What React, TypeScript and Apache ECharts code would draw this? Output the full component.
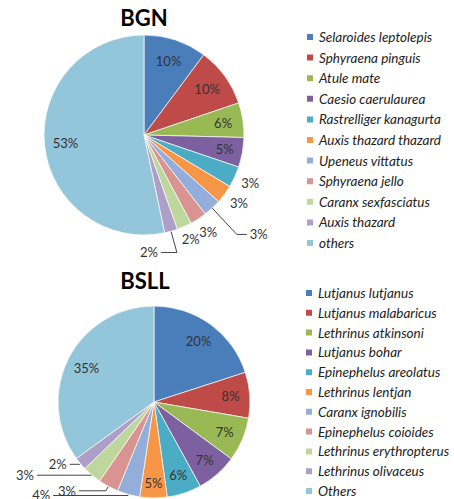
import React, { useEffect, useRef } from "react";
import * as echarts from "echarts";

// ---------- data ----------
const BGN_SPECIES = [
  "Selaroides leptolepis",
  "Sphyraena pinguis",
  "Atule mate",
  "Caesio caerulaurea",
  "Rastrelliger kanagurta",
  "Auxis thazard thazard",
  "Upeneus vittatus",
  "Sphyraena jello",
  "Caranx sexfasciatus",
  "Auxis thazard",
  "others",
];
const BGN_VALUES = [10.2, 9.6, 5.6, 4.8, 3.4, 3.0, 2.9, 2.7, 2.4, 2.1, 53.3];

const BSLL_SPECIES = [
  "Lutjanus lutjanus",
  "Lutjanus malabaricus",
  "Lethrinus atkinsoni",
  "Lutjanus bohar",
  "Epinephelus areolatus",
  "Lethrinus lentjan",
  "Caranx ignobilis",
  "Epinephelus coioides",
  "Lethrinus erythropterus",
  "Lethrinus olivaceus",
  "Others",
];
const BSLL_VALUES = [20.0, 7.7, 7.4, 6.9, 5.8, 4.6, 3.8, 3.4, 3.2, 2.2, 35.0];

const TITLES = ["BGN", "BSLL"];

// ---------- styles ----------
const COLORS = [
  "#4A7EBB", "#BE4B48", "#98B954", "#7D60A0", "#4BACC6", "#F79646",
  "#93AEDB", "#D99391", "#BED79C", "#AE9FC8", "#93C6DA",
];
const FONT = "Lato, 'Open Sans', sans-serif";

type LabelStyle =
  | { kind: "in"; k: number }
  | { kind: "out"; gap: number }
  | { kind: "line"; l1: number; l2: number };

const BGN_LABELS: LabelStyle[] = [
  { kind: "in", k: 0.78 }, { kind: "in", k: 0.78 }, { kind: "in", k: 0.8 }, { kind: "in", k: 0.82 },
  { kind: "out", gap: 8 }, { kind: "out", gap: 9 }, { kind: "line", l1: 36, l2: 10 },
  { kind: "out", gap: 9 }, { kind: "out", gap: 7 }, { kind: "line", l1: 22, l2: -16 },
  { kind: "in", k: 0.79 },
];
const BSLL_LABELS: LabelStyle[] = [
  { kind: "in", k: 0.79 }, { kind: "in", k: 0.8 }, { kind: "in", k: 0.8 }, { kind: "in", k: 0.8 },
  { kind: "in", k: 0.8 }, { kind: "in", k: 0.84 },
  { kind: "line", l1: 1, l2: -75 }, { kind: "line", l1: 5, l2: -27 },
  { kind: "line", l1: 0, l2: -55 }, { kind: "line", l1: 1, l2: -10 },
  { kind: "in", k: 0.79 },
];

const BGN_CENTER = [144, 135];
const BGN_R = 100;
const BSLL_CENTER = [154, 402];
const BSLL_R = 96;

function makeLayout(values: number[], styles: LabelStyle[], cx: number, cy: number, r: number) {
  const total = values.reduce((a, b) => a + b, 0);
  const mids: number[] = [];
  let acc = 0;
  values.forEach((v) => {
    mids.push(((acc + v / 2) / total) * Math.PI * 2);
    acc += v;
  });
  return (params: any) => {
    const i = params.dataIndex;
    const s = styles[i];
    const a = mids[i];
    const dx = Math.sin(a);
    const dy = -Math.cos(a);
    const w = params.labelRect.width;
    const h = params.labelRect.height;
    if (s.kind === "in") {
      return { x: cx + dx * r * s.k, y: cy + dy * r * s.k, align: "center", verticalAlign: "middle" };
    }
    if (s.kind === "out") {
      return {
        x: cx + dx * (r + s.gap) + (dx * w) / 2,
        y: cy + dy * (r + s.gap) + (dy * h) / 2,
        align: "center",
        verticalAlign: "middle",
      };
    }
    const x0 = cx + dx * r;
    const y0 = cy + dy * r;
    const x1 = x0 + dx * s.l1;
    const y1 = y0 + dy * s.l1;
    const x2 = x1 + s.l2;
    const right = s.l2 >= 0;
    return {
      x: x2 + (right ? 3 : -3),
      y: y1,
      align: right ? "left" : "right",
      verticalAlign: "middle",
      labelLinePoints: [[x0, y0], [x1, y1], [x2, y1]],
    };
  };
}

function pieSeries(
  names: string[],
  values: number[],
  styles: LabelStyle[],
  center: number[],
  r: number
) {
  return {
    type: "pie",
    center,
    radius: [0, r],
    startAngle: 90,
    clockwise: true,
    avoidLabelOverlap: false,
    silent: true,
    itemStyle: { borderColor: "#ffffff", borderWidth: 0.7 },
    label: {
      show: true,
      position: "outside",
      fontFamily: FONT,
      fontSize: 13,
      color: "#333333",
      formatter: (p: any) => Math.round(p.value) + "%",
    },
    labelLine: { show: false, lineStyle: { color: "#444444", width: 1 } },
    labelLayout: makeLayout(values, styles, center[0], center[1], r),
    data: names.map((n, i) => ({
      name: n,
      value: values[i],
      itemStyle: { color: COLORS[i] },
      labelLine: { show: styles[i].kind === "line", length: 0, length2: 0 },
    })),
  };
}

export default function App() {
  const ref = useRef<HTMLDivElement>(null);
  useEffect(() => {
    if (!ref.current) return;
    const chart = echarts.init(ref.current, null, { renderer: "svg" });
    const legendText = {
      fontFamily: FONT,
      fontStyle: "italic",
      fontSize: 13.5,
      color: "#222222",
      lineHeight: 14,
    };
    chart.setOption({
      animation: false,
      backgroundColor: "#ffffff",
      title: [
        {
          text: TITLES[0],
          left: 144,
          top: 6,
          textAlign: "center",
          padding: 0,
          textStyle: { fontFamily: FONT, fontWeight: "bold", fontSize: 22, color: "#000000" },
        },
        {
          text: TITLES[1],
          left: 145,
          top: 269,
          textAlign: "center",
          padding: 0,
          textStyle: { fontFamily: FONT, fontWeight: "bold", fontSize: 22, color: "#000000" },
        },
      ],
      legend: [
        {
          data: BGN_SPECIES,
          orient: "vertical",
          left: 305,
          top: 30,
          padding: 0,
          itemWidth: 8,
          itemHeight: 8,
          itemGap: 6.6,
          icon: "rect",
          selectedMode: false,
          textStyle: legendText,
        },
        {
          data: BSLL_SPECIES,
          orient: "vertical",
          left: 304,
          top: 286,
          padding: 0,
          itemWidth: 8,
          itemHeight: 8,
          itemGap: 5.8,
          icon: "rect",
          selectedMode: false,
          textStyle: legendText,
        },
      ],
      series: [
        pieSeries(BGN_SPECIES, BGN_VALUES, BGN_LABELS, BGN_CENTER, BGN_R),
        pieSeries(BSLL_SPECIES, BSLL_VALUES, BSLL_LABELS, BSLL_CENTER, BSLL_R),
      ],
    });
    return () => chart.dispose();
  }, []);
  return (
    <div
      ref={ref}
      style={{ position: "fixed", left: 0, top: 0, width: 454, height: 499, background: "#fff" }}
    />
  );
}
